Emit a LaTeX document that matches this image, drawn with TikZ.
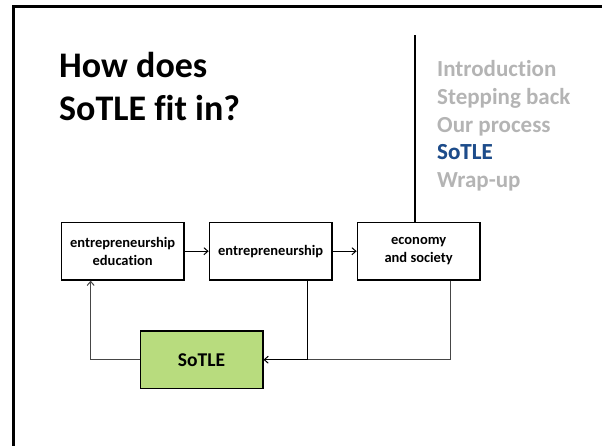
\documentclass[tikz,border=0pt]{standalone}
\usepackage{fontspec}
\setmainfont{Carlito}[Ligatures=NoCommon]
\usepackage{tikz}
\usetikzlibrary{arrows.meta,positioning}
\definecolor{menugray}{RGB}{180,180,180}
\definecolor{menublue}{RGB}{28,76,140}
\definecolor{sotlegreen}{RGB}{184,220,126}
\definecolor{linkgray}{RGB}{70,70,70}

\begin{document}
\begin{tikzpicture}[x=1pt,y=-1pt,node distance=24pt,
  box/.style={draw=black,line width=1.5pt,fill=white,align=center,inner sep=0pt,
    minimum width=122.5pt,minimum height=57.5pt,font=\fontsize{14.5}{17.7}\selectfont\bfseries},
  menuitem/.style={anchor=base west,inner sep=0pt,font=\fontsize{23}{27.7}\selectfont\bfseries,text=menugray},
  titleline/.style={anchor=base west,inner sep=0pt,font=\fontsize{36}{43}\selectfont\bfseries},
  flow/.style={-{Straight Barb[length=4pt,width=7pt]},line width=1pt,black},
  back/.style={line width=1pt,linkgray}]
  \useasboundingbox (0,0) rectangle (602,445);
  \clip (0,0) rectangle (602,445);
  \draw[line width=3pt] (13.8,6) rectangle (640,480);
  % title
  \node[titleline] (t1) at (59,77) {How does};
  \node[titleline] (t2) at (59,120) {SoTLE fit in?};
  % menu
  \coordinate (bartop) at (415,35);
  \foreach \name/\txt [count=\i from 0] in {m1/Introduction,m2/Stepping back,m3/Our process,m4/SoTLE,m5/Wrap-up}
    {\node[menuitem] (\name) at (437,76.7+27.7*\i) {\txt};}
  \node[menuitem,text=menublue] at (m4.base west) {SoTLE};
  % boxes
  \node[box] (edu) at (122.65,251.2) {entrepreneurship\\education};
  \node[box,right=of edu] (ent) {entrepreneurship};
  \node[box,right=of ent] (eco) {economy\\and society};
  \node[box,fill=sotlegreen,font=\fontsize{19.5}{23}\selectfont\bfseries] (sotle) at (201.5,359.7) {SoTLE};
  \draw[line width=1.2pt] (bartop) -- (bartop|-eco.north);
  \draw[flow] (edu) -- (ent);
  \draw[flow] (ent) -- (eco);
  \draw[back] ([xshift=31.7pt]eco.south) |- (sotle.east);
  \draw[back,-{Straight Barb[length=4pt,width=7pt]},black] ([xshift=36.9pt]ent.south) |- (sotle.east);
  \draw[back,-{Straight Barb[length=4pt,width=7pt]}] (sotle.west) -| ([xshift=-32pt]edu.south);
\end{tikzpicture}
\end{document}
